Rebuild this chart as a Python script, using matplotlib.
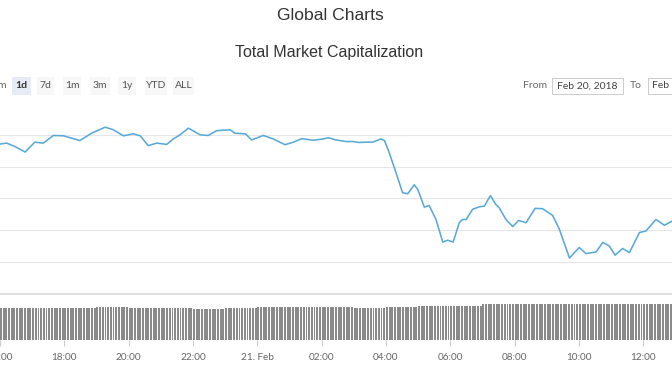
import numpy as np
import matplotlib.pyplot as plt
from matplotlib.patches import Rectangle

# market cap line, hours since Feb 20 00:00 and value in billion USD
hours = [16.15, 16.36, 16.62, 16.93, 17.23, 17.49, 17.80, 18.11, 18.62, 18.98,
         19.40, 19.65, 19.96, 20.27, 20.48, 20.73, 20.99, 21.30, 21.50, 21.71,
         21.97, 22.33, 22.58, 22.84, 23.25, 23.41, 23.73, 23.92, 24.28, 24.59,
         24.95, 25.21, 25.47, 25.82, 26.13, 26.29, 26.52, 26.83, 27.04, 27.24,
         27.45, 27.66, 27.91, 28.02, 28.17, 28.38, 28.58, 28.74, 28.94, 29.05,
         29.25, 29.40, 29.61, 29.82, 29.97, 30.14, 30.33, 30.43, 30.54, 30.74,
         30.95, 31.10, 31.29, 31.46, 31.56, 31.77, 31.98, 32.16, 32.39, 32.67,
         32.90, 33.21, 33.42, 33.73, 34.03, 34.24, 34.55, 34.76, 34.96, 35.14,
         35.37, 35.58, 35.89, 36.09, 36.40, 36.66, 36.90]
market_cap = [487.1, 487.4, 486.3, 484.6, 487.7, 487.4, 489.8, 489.7, 488.2, 490.5,
              492.4, 491.6, 489.7, 490.3, 489.7, 486.6, 487.4, 487.0, 488.7, 490.0,
              492.1, 490.0, 489.8, 491.3, 491.6, 490.5, 490.3, 488.4, 489.8, 488.7,
              486.9, 487.7, 488.8, 488.3, 488.7, 489.1, 488.4, 487.9, 487.9, 487.6,
              487.7, 487.7, 488.7, 488.2, 484.3, 478.0, 471.8, 471.5, 474.3, 472.8,
              467.3, 467.8, 463.4, 456.3, 456.9, 456.3, 462.4, 463.4, 463.4, 466.6,
              467.4, 467.6, 470.9, 468.1, 467.1, 463.4, 461.2, 463.1, 462.4, 466.9,
              466.8, 464.7, 460.3, 451.3, 454.6, 452.7, 453.2, 456.2, 455.1, 452.2,
              454.3, 453.0, 459.3, 459.8, 463.4, 461.6, 462.9]

# 24h volume (billion USD) per hour, hour 15 .. 36
vol_hours = list(range(15, 37))
vol_level = [21.3, 21.3, 21.3, 21.4, 21.8, 21.6, 21.3, 20.9, 21.1, 21.7, 21.8,
             21.8, 21.4, 21.8, 22.6, 22.9, 23.8, 24.0, 24.0, 24.0, 24.0, 24.0]

tick_hours = [16, 18, 20, 22, 24, 26, 28, 30, 32, 34, 36]
tick_labels = ['16:00', '18:00', '20:00', '22:00', '21. Feb', '02:00',
               '04:00', '06:00', '08:00', '10:00', '12:00']

buttons = ['1d', '7d', '1m', '3m', '1y', 'YTD', 'ALL']
button_x = [12, 37, 63, 90, 118, 145, 173]
button_w = [19, 17, 18, 20, 18, 22, 21]

W, H = 672, 372
x0, x1 = 16 + 5 / 32.4, 16 + 677 / 32.4

fig = plt.figure(figsize=(W / 100, H / 100), dpi=100)
fig.patch.set_facecolor('white')

def frac(top, bottom):
    return [0, 1 - bottom / H, 1, (bottom - top) / H]

# main price pane
ax = fig.add_axes(frac(110, 294))
ax.plot(hours, market_cap, color='#5ba9d6', lw=1.15, zorder=3)
ax.set_xlim(x0, x1)
ax.set_ylim(440, 497.8)
ax.set_yticks([450, 460, 470, 480, 490])
ax.grid(axis='y', color='#e6e6e6', lw=0.8)
ax.set_xticks([])
ax.tick_params(axis='y', length=0, labelleft=False)
for s in ['top', 'left', 'right']:
    ax.spines[s].set_visible(False)
ax.spines['bottom'].set_color('#e0e0e0')
ax.spines['bottom'].set_linewidth(1.5)

# volume pane
axv = fig.add_axes(frac(295, 340))
bar_t = np.arange(15 + 50 / 60, x1, 5 / 60)
bar_v = [vol_level[vol_hours.index(int(t))] for t in bar_t]
axv.bar(bar_t, bar_v, width=5 / 60 * 0.72, color='#8a8a8a', align='edge', lw=0)
axv.set_xlim(x0, x1)
axv.set_ylim(0, 30)
axv.set_yticks([])
axv.set_xticks(tick_hours)
axv.set_xticklabels(tick_labels, fontsize=7.2, color='#666666', family='Lato')
axv.tick_params(axis='x', length=4, color='#cccccc', pad=5)
for s in ['top', 'left', 'right', 'bottom']:
    axv.spines[s].set_visible(False)

# titles
fig.text(330 / W, 1 - 16 / H, 'Global Charts', ha='center', va='center',
         fontsize=12.6, color='#333333', family='Liberation Sans')
fig.text(329 / W, 1 - 52 / H, 'Total Market Capitalization', ha='center', va='center',
         fontsize=11.5, color='#333333', family='Liberation Sans')

# range selector buttons
fig.text(2 / W, 1 - 86 / H, 'm', ha='center', va='center', fontsize=7.5,
         color='#666666', family='Lato')
for i, b in enumerate(buttons):
    sel = b == '1d'
    fig.patches.append(Rectangle((button_x[i] / W, 1 - 95 / H), button_w[i] / W, 18 / H,
                                 transform=fig.transFigure,
                                 facecolor='#e6ebf5' if sel else '#f7f7f7', lw=0))
    fig.text((button_x[i] + button_w[i] / 2) / W, 1 - 86 / H, b, ha='center', va='center',
             fontsize=7.5, color='#333333' if sel else '#555555',
             fontweight='bold' if sel else 'normal', family='Lato')

# date inputs
fig.text(535 / W, 1 - 86 / H, 'From', ha='center', va='center', fontsize=7.5,
         color='#666666', family='Lato')
fig.patches.append(Rectangle((552 / W, 1 - 94 / H), 71 / W, 16 / H,
                             transform=fig.transFigure, facecolor='white',
                             edgecolor='#cccccc', lw=0.7))
fig.text(587 / W, 1 - 86 / H, 'Feb 20, 2018', ha='center', va='center', fontsize=7.5,
         color='#444444', family='Lato')
fig.text(636 / W, 1 - 86 / H, 'To', ha='center', va='center', fontsize=7.5,
         color='#666666', family='Lato')
fig.patches.append(Rectangle((648 / W, 1 - 94 / H), 40 / W, 16 / H,
                             transform=fig.transFigure, facecolor='white',
                             edgecolor='#cccccc', lw=0.7))
fig.text(652 / W, 1 - 86 / H, 'Feb', ha='left', va='center', fontsize=7.5,
         color='#444444', family='Lato')

fig.savefig('out.png', dpi=100, facecolor='white')
